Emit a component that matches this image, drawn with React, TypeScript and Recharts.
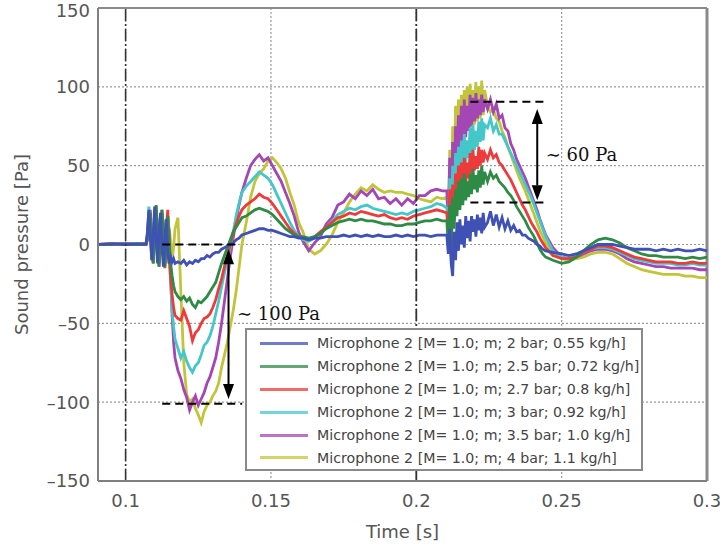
import React from "react";
import { LineChart, Line, XAxis, YAxis, CartesianGrid, ReferenceLine, Legend } from "recharts";

document.body.style.margin = "0";

// time axis [s]
const time = [
  0.0905, 0.095, 0.1, 0.104, 0.107,
  0.1075, 0.108, 0.1085, 0.109, 0.1095, 0.11, 0.1105, 0.111, 0.1115, 0.112, 0.1125, 0.113, 0.1135, 0.114, 0.1145, 0.115, 0.1155, 0.116, 0.1165, 0.117,
  0.118, 0.119, 0.12, 0.121, 0.122, 0.123, 0.124, 0.125, 0.126, 0.127, 0.128, 0.129, 0.13, 0.131, 0.132, 0.133, 0.134, 0.135, 0.136, 0.137, 0.138, 0.139, 0.14,
  0.1415, 0.143, 0.1445, 0.146, 0.1475, 0.149, 0.1505, 0.152, 0.1535, 0.155, 0.1565, 0.158, 0.1595,
  0.161, 0.163, 0.165, 0.167, 0.169, 0.171, 0.173, 0.175, 0.177, 0.179, 0.181, 0.183, 0.185, 0.187, 0.189, 0.191, 0.193, 0.195, 0.197, 0.199, 0.201, 0.203, 0.205, 0.207, 0.209,
  0.2105, 0.211, 0.2115, 0.212, 0.2125, 0.213, 0.2135, 0.214, 0.2145, 0.215, 0.2155, 0.216, 0.2165, 0.217, 0.2175, 0.218, 0.2185, 0.219, 0.2195, 0.22, 0.2205, 0.221, 0.2215, 0.222, 0.2225, 0.223, 0.2235,
  0.2245, 0.2255, 0.2265, 0.2275, 0.2285, 0.2295, 0.2305, 0.2315, 0.2325, 0.2335, 0.2345, 0.2355, 0.2365, 0.2375, 0.2385, 0.2395, 0.2405, 0.2415, 0.2425, 0.2435, 0.2445,
  0.247, 0.25, 0.2525, 0.255, 0.2575, 0.26, 0.2625, 0.265, 0.2675, 0.27, 0.2725, 0.275, 0.2775, 0.28, 0.2825, 0.285, 0.2875, 0.29, 0.2925, 0.295, 0.2975, 0.3,
];

// sound pressure [Pa]
const blue = [
  0, 0.5, 0, 0.5, 0,
  8, 22, 4, -10, 6, 24, 2, -12, 10, 20, -2, -14, 4, 16, -6, -12, -8, -11, -9, -12,
  -11, -12, -10, -13, -11, -12, -10, -11, -9, -9, -7, -8, -6, -5, -5, -3, -2, -1, 0, 1, 3, 4, 6,
  7, 8, 9, 10, 10, 9, 9, 8, 7, 6, 5, 5, 4,
  4, 3, 4, 4, 5, 5, 5, 6, 5, 6, 5, 6, 5, 6, 5, 5, 6, 5, 6, 5, 6, 6, 5, 6, 6,
  6, -6, 10, -12, -20, 8, -10, 14, -4, 16, 0, 12, -2, 18, 4, 15, 2, 18, 8, 16, 5, 19, 9, 17, 7, 20, 11,
  14, 21, 12, 19, 11, 17, 10, 15, 9, 12, 8, 9, 6, 6, 4, 3, 2, 0, -1, -3, -4,
  -5, -6, -7, -6, -4, -2, 0, 0, 0, -1, -2, -3, -3, -3, -4, -3, -4, -3, -4, -4, -3, -4,
];
const green = [
  0, 0, 0.5, 0, 0.5,
  4, 18, 20, -4, -12, 14, 25, 2, -14, 8, 22, 6, -14, 2, 18, 0, -12, -20, -26, -30,
  -33, -35, -33, -36, -34, -38, -40, -36, -37, -35, -33, -30, -27, -24, -18, -12, -7, -2, 3, 8, 11, 14, 17,
  18, 20, 22, 23, 22, 21, 19, 16, 13, 10, 8, 6, 5,
  5, 4, 5, 7, 10, 12, 14, 15, 16, 15, 16, 15, 15, 14, 13, 13, 12, 12, 13, 13, 14, 15, 15, 16, 15,
  15, 0, 25, -8, 30, 10, 35, 18, 40, 22, 42, 25, 45, 28, 40, 30, 45, 32, 48, 35, 44, 33, 47, 36, 50, 38, 46,
  40, 46, 42, 44, 40, 38, 36, 33, 31, 28, 24, 21, 18, 15, 11, 8, 5, 1, -3, -6, -8,
  -10, -12, -11, -8, -4, 0, 3, 4, 3, 1, -2, -4, -6, -7, -7, -8, -8, -8, -9, -8, -9, -8,
];
const red = [
  0, 0.5, 0, 0, 0.5,
  6, 20, 12, -8, -10, 20, 22, -5, -12, 15, 20, -2, -15, 10, 22, -8, -22, -32, -40, -45,
  -47, -48, -42, -47, -52, -61, -56, -54, -50, -47, -46, -44, -40, -35, -28, -22, -14, -7, 0, 7, 13, 18, 22,
  25, 27, 29, 32, 30, 29, 26, 22, 18, 14, 10, 7, 5,
  4, 3, 5, 8, 11, 14, 17, 18, 20, 19, 21, 20, 19, 18, 19, 17, 16, 17, 16, 18, 19, 20, 21, 22, 21,
  20, 5, 35, 0, 38, 15, 45, 25, 50, 30, 52, 35, 55, 38, 52, 42, 58, 45, 60, 47, 56, 48, 62, 50, 60, 52, 58,
  54, 60, 55, 57, 52, 50, 47, 44, 41, 37, 33, 29, 25, 22, 18, 14, 11, 8, 4, 1, -2,
  -7, -9, -9, -8, -5, -3, -1, -1, -2, -4, -6, -8, -9, -10, -11, -11, -11, -12, -12, -11, -12, -12,
];
const cyan = [
  0, 0, 0, 0.5, 0,
  5, 24, 10, -10, -5, 22, 18, -10, -8, 20, 15, -8, -12, 15, 18, -5, -25, -42, -52, -60,
  -66, -72, -68, -74, -78, -81, -77, -75, -70, -64, -62, -58, -52, -44, -36, -27, -18, -10, -2, 8, 18, 26, 33,
  37, 40, 43, 46, 44, 42, 38, 32, 26, 20, 14, 9, 5,
  3, 2, 4, 7, 11, 15, 19, 21, 23, 22, 24, 25, 23, 22, 21, 20, 19, 20, 19, 21, 22, 23, 24, 26, 25,
  23, 8, 42, 5, 50, 20, 58, 32, 62, 40, 66, 45, 70, 50, 66, 55, 74, 58, 76, 60, 72, 62, 78, 65, 80, 66, 76,
  74, 80, 72, 76, 70, 70, 66, 62, 58, 54, 50, 46, 42, 38, 34, 30, 25, 20, 15, 10, 5,
  -4, -8, -9, -7, -5, -3, -2, -2, -3, -5, -7, -9, -10, -11, -12, -12, -12, -13, -13, -12, -13, -13,
];
const purple = [
  0, 0, 0.5, 0, 0,
  3, 15, 22, 0, -12, 10, 24, 5, -14, 5, 22, 10, -10, 0, 18, 8, -20, -45, -62, -72,
  -80, -85, -92, -97, -105, -100, -96, -102, -98, -94, -88, -84, -78, -72, -62, -50, -36, -22, -8, 4, 15, 25, 33,
  42, 50, 54, 57, 53, 55, 50, 45, 40, 33, 26, 18, 8,
  2, -4, 1, 5, 13, 17, 25, 27, 32, 29, 34, 31, 35, 29, 30, 26, 29, 25, 29, 26, 31, 31, 34, 35, 34,
  34, 15, 55, 10, 65, 30, 75, 45, 82, 55, 88, 62, 92, 68, 88, 72, 95, 75, 93, 78, 96, 80, 92, 82, 95, 84, 92,
  86, 92, 84, 89, 80, 82, 74, 72, 64, 60, 54, 50, 46, 42, 37, 32, 27, 22, 16, 11, 6,
  -2, -8, -9, -8, -6, -4, -3, -3, -4, -6, -9, -11, -12, -13, -14, -14, -15, -15, -15, -15, -16, -16,
];
const yellow = [
  0, 0, 0, 0, 0.5,
  2, 10, 20, 8, -10, 0, 20, 12, -10, -5, 15, 15, -5, -12, 5, 10, 2, -10, -2, 10,
  17, -30, -75, -95, -100, -98, -104, -108, -113, -106, -102, -100, -96, -93, -88, -78, -70, -62, -52, -42, -30, -15, 0,
  14, 30, 40, 45, 48, 53, 55, 52, 48, 42, 33, 25, 14,
  8, -3, -6, -4, 0, 6, 14, 20, 27, 32, 36, 34, 38, 35, 33, 34, 33, 33, 32, 31, 29, 28, 27, 30, 29,
  30, 10, 60, 20, 75, 40, 88, 55, 92, 60, 95, 65, 98, 70, 100, 72, 102, 74, 98, 76, 103, 78, 100, 80, 104, 82, 98,
  88, 84, 86, 80, 78, 72, 68, 62, 57, 52, 47, 42, 38, 34, 29, 24, 19, 14, 9, 5, 1,
  -5, -9, -10, -9, -8, -6, -5, -5, -6, -9, -12, -14, -16, -17, -18, -19, -19, -19, -20, -20, -21, -21,
];

const seriesNames = [
  "Microphone 2 [M= 1.0; m; 2 bar; 0.55 kg/h]",
  "Microphone 2 [M= 1.0; m; 2.5 bar; 0.72 kg/h]",
  "Microphone 2 [M= 1.0; m; 2.7 bar; 0.8 kg/h]",
  "Microphone 2 [M= 1.0; m; 3 bar; 0.92 kg/h]",
  "Microphone 2 [M= 1.0; m; 3.5 bar; 1.0 kg/h]",
  "Microphone 2 [M= 1.0; m; 4 bar; 1.1 kg/h]",
];
const seriesColors = ["#3f51b5", "#2e8b46", "#ee3a3a", "#44c7c9", "#a446b3", "#c2c43a"];
const seriesValues = [blue, green, red, cyan, purple, yellow];

const xTicks = [0.1, 0.15, 0.2, 0.25, 0.3];
const yTicks = [-150, -100, -50, 0, 50, 100, 150];

const data = time.map((t, i) => {
  const row: any = { t };
  seriesValues.forEach((v, k) => (row["s" + k] = v[i]));
  return row;
});

const font = "DejaVu Sans";
const tickStyle = { fontSize: 18, fill: "#555", fontFamily: font };

function Arrow(props: any) {
  const { x1, y1, y2, text, frac } = props;
  const top = Math.min(y1, y2);
  const bot = Math.max(y1, y2);
  const hl = 15;
  const hw = 5.5;
  return (
    <g>
      <line x1={x1} y1={top + hl} x2={x1} y2={bot - hl} stroke="#000" strokeWidth={2} />
      <polygon points={`${x1},${top} ${x1 - hw},${top + hl} ${x1 + hw},${top + hl}`} fill="#000" />
      <polygon points={`${x1},${bot} ${x1 - hw},${bot - hl} ${x1 + hw},${bot - hl}`} fill="#000" />
      <text x={x1 + 8.5} y={top + frac * (bot - top)} fontFamily="DejaVu Serif" fontSize={18} fill="#111">
        {text}
      </text>
    </g>
  );
}

function LegendBox() {
  return (
    <div
      style={{
        width: 398,
        height: 143,
        boxSizing: "border-box",
        border: "2px solid #8a8a8a",
        background: "#fff",
        paddingTop: 2,
      }}
    >
      {seriesNames.map((n, i) => (
        <div key={n} style={{ display: "flex", alignItems: "center", height: 22.9 }}>
          <span
            style={{
              display: "inline-block",
              width: 48,
              height: 0,
              borderTop: `3px solid ${seriesColors[i]}`,
              marginLeft: 13,
              marginRight: 9,
              opacity: 0.75,
            }}
          />
          <span style={{ fontFamily: font, fontSize: 14.2, color: "#444", whiteSpace: "nowrap" }}>{n}</span>
        </div>
      ))}
    </div>
  );
}

const dashed = { stroke: "#000", strokeWidth: 2, strokeDasharray: "8 5" };

export default function App() {
  const drawOrder = [5, 4, 3, 2, 1, 0];
  return (
    <div style={{ width: 720, height: 546, background: "#fff", fontFamily: font }}>
      <LineChart width={720} height={546} data={data} margin={{ top: 8, right: 13, bottom: 3, left: 0 }}>
        <CartesianGrid stroke="#9a9a9a" strokeDasharray="2 2" strokeWidth={1.2} />
        <XAxis
          dataKey="t"
          type="number"
          domain={[0.0905, 0.3]}
          ticks={xTicks}
          tickLine={false}
          tickMargin={7}
          height={62}
          tick={tickStyle}
          axisLine={{ stroke: "#808080", strokeWidth: 2 }}
          label={{ value: "Time [s]", position: "insideBottom", fontSize: 18, fill: "#555", fontFamily: font }}
        />
        <YAxis
          type="number"
          domain={[-150, 150]}
          ticks={yTicks}
          width={98}
          tickLine={false}
          tick={tickStyle}
          tickFormatter={(v: number) => (v < 0 ? "\u2013" + Math.abs(v) : String(v))}
          axisLine={{ stroke: "#808080", strokeWidth: 2 }}
          label={{
            value: "Sound pressure [Pa]",
            angle: -90,
            position: "insideLeft",
            offset: 22,
            fontSize: 18,
            fill: "#555",
            fontFamily: font,
            style: { textAnchor: "middle" },
          }}
        />
        <ReferenceLine y={150} stroke="#8a8a8a" strokeWidth={2} />
        <ReferenceLine x={0.3} stroke="#8a8a8a" strokeWidth={3} />
        {drawOrder.map((k) => (
          <Line
            key={k}
            type="linear"
            dataKey={"s" + k}
            name={seriesNames[k]}
            stroke={seriesColors[k]}
            strokeWidth={2.8}
            dot={false}
            isAnimationActive={false}
          />
        ))}
        <ReferenceLine x={0.1} stroke="#333" strokeWidth={1.6} strokeDasharray="12 3 2 3" />
        <ReferenceLine x={0.2} stroke="#333" strokeWidth={1.8} strokeDasharray="12 3 2 3" />
        <ReferenceLine segment={[{ x: 0.1126, y: 0 }, { x: 0.1378, y: 0 }]} {...dashed} />
        <ReferenceLine segment={[{ x: 0.1126, y: -101 }, { x: 0.1401, y: -101 }]} {...dashed} />
        <ReferenceLine segment={[{ x: 0.2186, y: 90.5 }, { x: 0.2449, y: 90.5 }]} {...dashed} />
        <ReferenceLine segment={[{ x: 0.2186, y: 26.6 }, { x: 0.2449, y: 26.6 }]} {...dashed} />
        <ReferenceLine
          segment={[{ x: 0.1354, y: -3 }, { x: 0.1354, y: -98 }]}
          shape={(p: any) => <Arrow {...p} text={"\u223C 100 Pa"} frac={0.47} />}
        />
        <ReferenceLine
          segment={[{ x: 0.2416, y: 86 }, { x: 0.2416, y: 28 }]}
          shape={(p: any) => <Arrow {...p} text={"\u223C 60 Pa"} frac={0.574} />}
        />
        <Legend
          layout="vertical"
          align="center"
          verticalAlign="middle"
          content={() => <LegendBox />}
          wrapperStyle={{ left: 245, top: 328, width: 398, height: 143 }}
        />
      </LineChart>
    </div>
  );
}
